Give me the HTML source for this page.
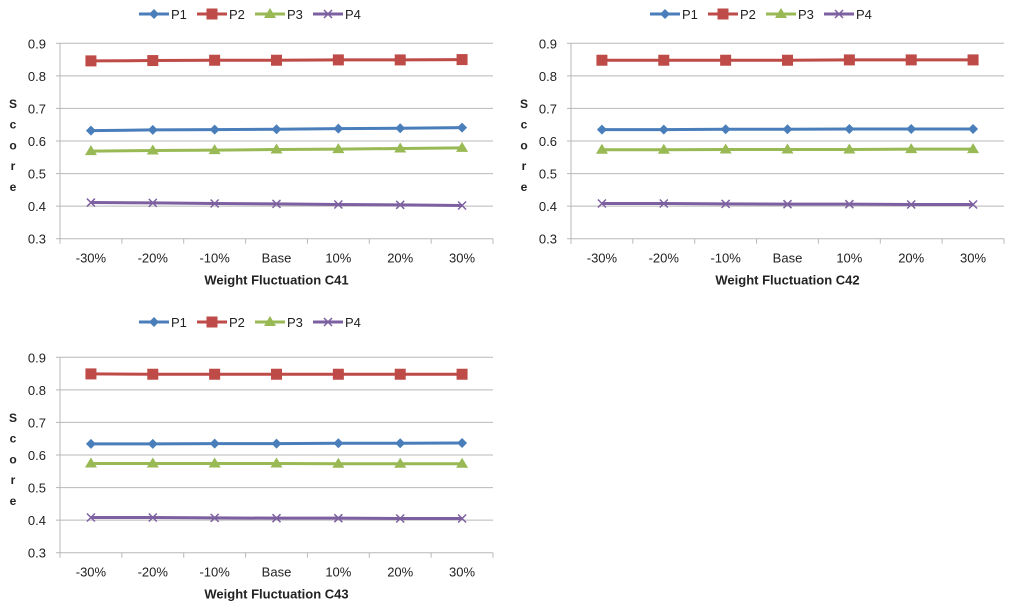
<!DOCTYPE html>
<html><head><meta charset="utf-8"><style>
body{margin:0;background:#fff;width:1024px;height:610px;overflow:hidden}
svg{font-family:"Liberation Sans",sans-serif}
</style></head><body>
<svg id="s" width="1024" height="610"></svg>
<script>
const categories=["-30%","-20%","-10%","Base","10%","20%","30%"];
const yTicks=[0.3,0.4,0.5,0.6,0.7,0.8,0.9];
const seriesNames=["P1","P2","P3","P4"];
const c41P1=[0.632,0.634,0.635,0.636,0.638,0.639,0.641];
const c41P2=[0.846,0.847,0.848,0.848,0.849,0.849,0.850];
const c41P3=[0.569,0.571,0.572,0.574,0.575,0.577,0.579];
const c41P4=[0.411,0.410,0.408,0.407,0.405,0.404,0.402];
const c42P1=[0.635,0.635,0.636,0.636,0.637,0.637,0.637];
const c42P2=[0.848,0.848,0.848,0.848,0.849,0.849,0.849];
const c42P3=[0.573,0.573,0.574,0.574,0.574,0.575,0.575];
const c42P4=[0.408,0.408,0.407,0.406,0.406,0.405,0.405];
const c43P1=[0.634,0.634,0.635,0.635,0.636,0.636,0.637];
const c43P2=[0.849,0.848,0.848,0.848,0.848,0.848,0.848];
const c43P3=[0.574,0.574,0.574,0.574,0.573,0.573,0.573];
const c43P4=[0.408,0.408,0.407,0.406,0.406,0.405,0.405];
const titles=["Weight Fluctuation C41","Weight Fluctuation C42","Weight Fluctuation C43"];

const colors=["#4a7ebb","#be4b48","#98b954","#7d60a0"];
const NS="http://www.w3.org/2000/svg";
const svg=document.getElementById('s');
function mk(tag,at,parent){const e=document.createElementNS(NS,tag);for(const k in at)e.setAttribute(k,at[k]);(parent||svg).appendChild(e);return e;}
function marker(g,i,x,y){
  const c=colors[i];let m;
  if(i==0)m=mk('polygon',{points:`${x},${y-5} ${x+5},${y} ${x},${y+5} ${x-5},${y}`,fill:c},g);
  else if(i==1)m=mk('rect',{x:x-5.5,y:y-5.5,width:11,height:11,fill:c},g);
  else if(i==2)m=mk('polygon',{points:`${x},${y-6} ${x+6},${y+4} ${x-6},${y+4}`,fill:c},g);
  else m=mk('path',{d:`M${x-4},${y-4}L${x+4},${y+4}M${x-4},${y+4}L${x+4},${y-4}`,stroke:c,'stroke-width':1.5,fill:'none'},g);
  return m;
}
function chart(ox,oy,data,title,idx){
  const g=mk('g',{});
  
  
  const L=ox+60,R=ox+493,T=oy+43.3,B=oy+238.7;
  const xs=i=>L+(R-L)/categories.length*(i+0.5);
  const ys=v=>B-(v-0.3)/0.6*(B-T);
  yTicks.forEach(v=>{
    const y=ys(v);
    if(v>0.3){const l=mk('line',{x1:L,x2:R,y1:y,y2:y,stroke:'#b8b8b8','stroke-width':1},g);}
    mk('line',{x1:L-4,x2:L,y1:y,y2:y,stroke:'#b8b8b8'},g);
    const t=mk('text',{x:L-14,y:y+5,'font-size':13,'text-anchor':'end',fill:'#222'},g);t.textContent=v.toFixed(1);
    
  });
  mk('line',{x1:L,x2:L,y1:T,y2:B,stroke:'#b8b8b8'},g);
  mk('line',{x1:L,x2:R,y1:B,y2:B,stroke:'#b8b8b8'},g);
  for(let i=0;i<=categories.length;i++){const x=L+(R-L)/categories.length*i;mk('line',{x1:x,x2:x,y1:B,y2:B+5,stroke:'#b8b8b8'},g);}
  categories.forEach((c,i)=>{const t=mk('text',{x:xs(i),y:B+24,'font-size':13,'text-anchor':'middle',fill:'#222'},g);t.textContent=c;
    });
  const xt=mk('text',{x:(L+R)/2,y:B+46,'font-size':13,'font-weight':'bold','text-anchor':'middle',fill:'#222'},g);xt.textContent=title;
  
  const yt=mk('text',{x:ox+13,y:oy+108,'font-size':12,'font-weight':'bold','text-anchor':'middle',fill:'#222'},g);
  
  "Score".split('').forEach((ch,k)=>{const ts=mk('tspan',{x:ox+13,y:oy+108+k*20.7},yt);ts.textContent=ch;});
  data.forEach((arr,si)=>{
    const pts=arr.map((v,i)=>xs(i)+','+ys(v)).join(' ');
    const pl=mk('polyline',{points:pts,fill:'none',stroke:colors[si],'stroke-width':3},g);
    
    arr.forEach((v,i)=>{const m=marker(g,si,xs(i),ys(v));});
  });
  const lg=mk('g',{},g);
  const ly=idx==2?oy+8:oy+14;
  seriesNames.forEach((n,si)=>{
    const x0=ox+139+si*58;
    const e=mk('g',{},lg);
    mk('line',{x1:x0,x2:x0+30,y1:ly,y2:ly,stroke:colors[si],'stroke-width':3},e);
    marker(e,si,x0+15,ly);
    const t=mk('text',{x:x0+32,y:ly+5,'font-size':13,fill:'#222'},e);t.textContent=n;
  });
}
chart(0,0,[c41P1,c41P2,c41P3,c41P4],titles[0],0);
chart(511,0,[c42P1,c42P2,c42P3,c42P4],titles[1],1);
chart(0,314,[c43P1,c43P2,c43P3,c43P4],titles[2],2);
</script>
</body></html>
